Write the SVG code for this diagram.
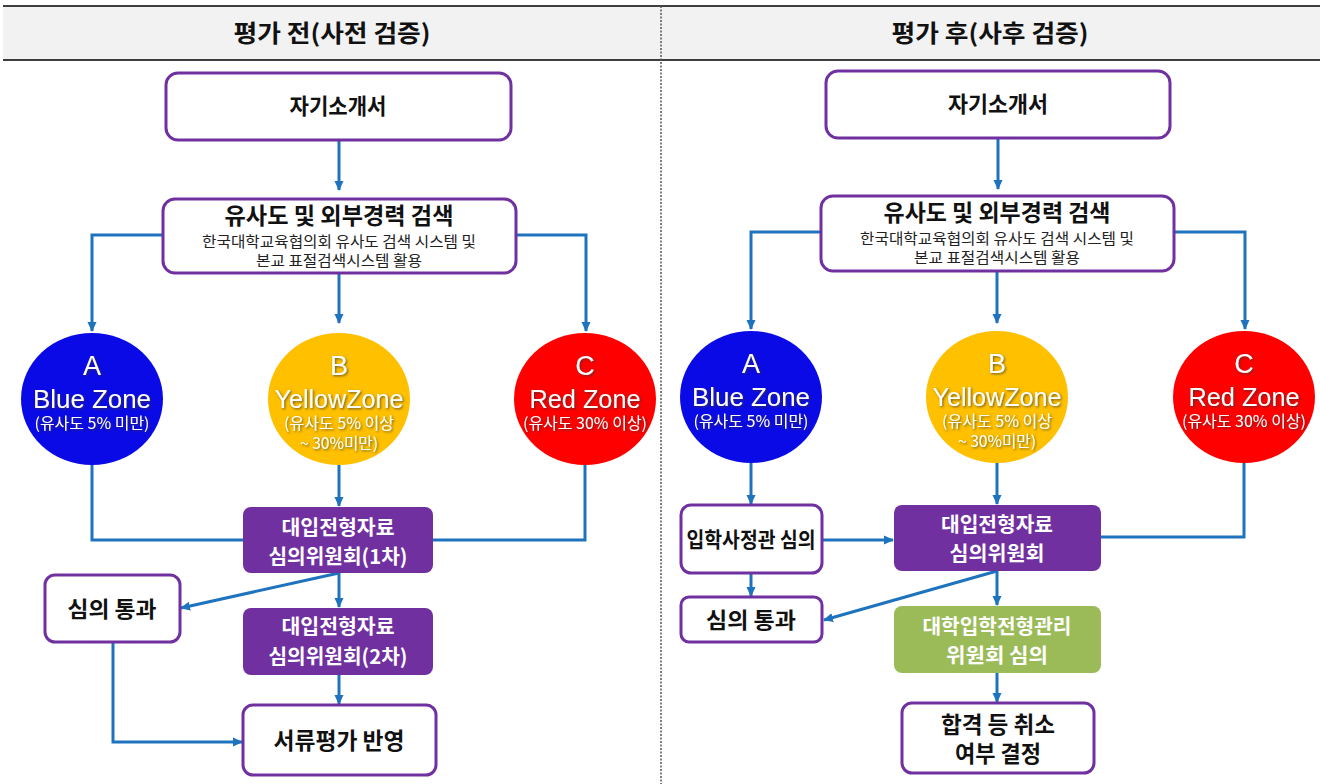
<svg xmlns="http://www.w3.org/2000/svg" width="1320" height="784" viewBox="0 0 1320 784">
<style>
.kr{font-family:"Noto Sans CJK KR","Noto Sans",sans-serif;text-anchor:middle}
.b{font-weight:bold}
.wbox{fill:#fff;stroke:#7030A0;stroke-width:3}
.pbox{fill:#7030A0}
.gbox{fill:#9BBB59}
.con{fill:none;stroke:#1E73BE;stroke-width:3}
.lat{font-family:"Liberation Sans",Arial,sans-serif;text-anchor:middle;fill:#fff}
.ct{fill:#fff}
</style>
<defs>
<marker id="ah" markerUnits="userSpaceOnUse" markerWidth="10" markerHeight="10" viewBox="0 0 10 10" refX="9" refY="5" orient="auto">
<path d="M0,0.5 L10,5 L0,9.5 Z" fill="#1E73BE"/>
</marker>
<filter id="sh" x="-10%" y="-10%" width="130%" height="140%">
<feDropShadow dx="1.2" dy="1.2" stdDeviation="0.8" flood-color="#333" flood-opacity="0.7"/>
</filter>
</defs>
<rect width="1320" height="784" fill="#fff"/>
<g id="header">
<rect x="3" y="6" width="1317" height="54" fill="#f2f2f2"/>
<line x1="3" y1="6" x2="1320" y2="6" stroke="#000" stroke-width="1.5"/>
<line x1="3" y1="60" x2="1320" y2="60" stroke="#000" stroke-width="1.5"/>
<line x1="661" y1="6" x2="661" y2="784" stroke="#555" stroke-width="1.5" stroke-dasharray="2,1.5"/>
<text class="kr b" x="332" y="42" font-size="24" fill="#111" textLength="197" lengthAdjust="spacingAndGlyphs">평가 전(사전 검증)</text>
<text class="kr b" x="990" y="42" font-size="24" fill="#111" textLength="197" lengthAdjust="spacingAndGlyphs">평가 후(사후 검증)</text>
</g>
<g id="connectors">
<path class="con" d="M339,140 V190" marker-end="url(#ah)"/>
<path class="con" d="M163,235 H92 V331" marker-end="url(#ah)"/>
<path class="con" d="M339,273 V323" marker-end="url(#ah)"/>
<path class="con" d="M516,235 H586 V331" marker-end="url(#ah)" stroke="#3F7FBF"/>
<path class="con" d="M92,465 V540 H243"/>
<path class="con" d="M339,465 V506" marker-end="url(#ah)"/>
<path class="con" d="M585,465 V540 H433"/>
<path class="con" d="M339,573 L181,608" marker-end="url(#ah)"/>
<path class="con" d="M339,573 V607" marker-end="url(#ah)"/>
<path class="con" d="M339,675 V704" marker-end="url(#ah)" stroke="#3F7FBF"/>
<path class="con" d="M113,642 V742 H242" marker-end="url(#ah)"/>
<path class="con" d="M998,138 V189" marker-end="url(#ah)"/>
<path class="con" d="M821,232 H751 V329" marker-end="url(#ah)"/>
<path class="con" d="M997,271 V323" marker-end="url(#ah)"/>
<path class="con" d="M1174,232 H1245 V329" marker-end="url(#ah)" stroke="#3F7FBF"/>
<path class="con" d="M751,463 V504" marker-end="url(#ah)"/>
<path class="con" d="M997,463 V504" marker-end="url(#ah)"/>
<path class="con" d="M1244,463 V537 H1101"/>
<path class="con" d="M822,540 H893" marker-end="url(#ah)"/>
<path class="con" d="M751,573 V596" marker-end="url(#ah)"/>
<path class="con" d="M997,571 L824,620" marker-end="url(#ah)"/>
<path class="con" d="M997,571 V605" marker-end="url(#ah)"/>
<path class="con" d="M997,673 V702" marker-end="url(#ah)" stroke="#3F7FBF"/>
</g>
<g id="L-intro">
<rect class="wbox" x="166" y="73" width="345" height="67" rx="12"/>
<text class="kr b" x="338" y="114" font-size="22" fill="#111" textLength="97" lengthAdjust="spacingAndGlyphs">자기소개서</text>
</g>
<g id="L-search">
<rect class="wbox" x="163" y="199" width="353" height="74" rx="12"/>
<text class="kr b" x="339" y="224" font-size="23" fill="#111" textLength="229" lengthAdjust="spacingAndGlyphs">유사도 및 외부경력 검색</text>
<text class="kr" x="339" y="246.5" font-size="14.5" fill="#222" textLength="274" lengthAdjust="spacingAndGlyphs">한국대학교육협의회 유사도 검색 시스템 및</text>
<text class="kr" x="339" y="265.5" font-size="14.5" fill="#222" textLength="166" lengthAdjust="spacingAndGlyphs">본교 표절검색시스템 활용</text>
</g>
<g id="L-A">
<ellipse cx="92" cy="399" rx="71" ry="66" fill="#0A0AE6"/>
<g filter="url(#sh)">
<text class="lat" x="92" y="375" font-size="27">A</text>
<text class="lat" x="92" y="408" font-size="25" textLength="118" lengthAdjust="spacingAndGlyphs">Blue Zone</text>
<text class="kr ct" x="92" y="429" font-size="15.5" textLength="115" lengthAdjust="spacingAndGlyphs">(유사도 5% 미만)</text>
</g>
</g>
<g id="L-B">
<ellipse cx="339" cy="399" rx="71" ry="66" fill="#FFC000"/>
<g filter="url(#sh)">
<text class="lat" x="339" y="375" font-size="27">B</text>
<text class="lat" x="339" y="408" font-size="25" textLength="129" lengthAdjust="spacingAndGlyphs">YellowZone</text>
<text class="kr ct" x="339" y="429" font-size="15.5" textLength="110" lengthAdjust="spacingAndGlyphs">(유사도 5% 이상</text>
<text class="kr ct" x="339" y="449" font-size="15.5" textLength="78" lengthAdjust="spacingAndGlyphs">~ 30%미만)</text>
</g>
</g>
<g id="L-C">
<ellipse cx="585" cy="399" rx="71" ry="66" fill="#FF0000"/>
<g filter="url(#sh)">
<text class="lat" x="585" y="375" font-size="27">C</text>
<text class="lat" x="585" y="408" font-size="25" textLength="111" lengthAdjust="spacingAndGlyphs">Red Zone</text>
<text class="kr ct" x="585" y="429" font-size="15.5" textLength="124" lengthAdjust="spacingAndGlyphs">(유사도 30% 이상)</text>
</g>
</g>
<g id="L-committee1">
<rect class="pbox" x="243" y="507" width="190" height="66" rx="8"/>
<text class="kr b" x="338" y="535" font-size="20" fill="#fff" textLength="113" lengthAdjust="spacingAndGlyphs">대입전형자료</text>
<text class="kr b" x="338" y="564" font-size="20" fill="#fff" textLength="139" lengthAdjust="spacingAndGlyphs">심의위원회(1차)</text>
</g>
<g id="L-pass">
<rect class="wbox" x="45" y="575" width="135" height="67" rx="10"/>
<text class="kr b" x="112" y="617" font-size="22" fill="#111" textLength="89" lengthAdjust="spacingAndGlyphs">심의 통과</text>
</g>
<g id="L-committee2">
<rect class="pbox" x="243" y="608" width="190" height="67" rx="8"/>
<text class="kr b" x="338" y="634" font-size="20" fill="#fff" textLength="113" lengthAdjust="spacingAndGlyphs">대입전형자료</text>
<text class="kr b" x="338" y="664" font-size="20" fill="#fff" textLength="139" lengthAdjust="spacingAndGlyphs">심의위원회(2차)</text>
</g>
<g id="L-result">
<rect class="wbox" x="243" y="705" width="193" height="70" rx="10"/>
<text class="kr b" x="339" y="749" font-size="22.5" fill="#111" textLength="131" lengthAdjust="spacingAndGlyphs">서류평가 반영</text>
</g>
<g id="R-intro">
<rect class="wbox" x="826" y="71" width="344" height="67" rx="12"/>
<text class="kr b" x="998" y="112" font-size="22" fill="#111" textLength="100" lengthAdjust="spacingAndGlyphs">자기소개서</text>
</g>
<g id="R-search">
<rect class="wbox" x="821" y="196" width="353" height="75" rx="12"/>
<text class="kr b" x="997" y="221" font-size="23" fill="#111" textLength="227" lengthAdjust="spacingAndGlyphs">유사도 및 외부경력 검색</text>
<text class="kr" x="997" y="243.5" font-size="14.5" fill="#222" textLength="274" lengthAdjust="spacingAndGlyphs">한국대학교육협의회 유사도 검색 시스템 및</text>
<text class="kr" x="997" y="262.5" font-size="14.5" fill="#222" textLength="166" lengthAdjust="spacingAndGlyphs">본교 표절검색시스템 활용</text>
</g>
<g id="R-A">
<ellipse cx="751" cy="397" rx="71" ry="66" fill="#0A0AE6"/>
<g filter="url(#sh)">
<text class="lat" x="751" y="373" font-size="27">A</text>
<text class="lat" x="751" y="406" font-size="25" textLength="118" lengthAdjust="spacingAndGlyphs">Blue Zone</text>
<text class="kr ct" x="751" y="427" font-size="15.5" textLength="115" lengthAdjust="spacingAndGlyphs">(유사도 5% 미만)</text>
</g>
</g>
<g id="R-B">
<ellipse cx="997" cy="397" rx="71" ry="66" fill="#FFC000"/>
<g filter="url(#sh)">
<text class="lat" x="997" y="373" font-size="27">B</text>
<text class="lat" x="997" y="406" font-size="25" textLength="129" lengthAdjust="spacingAndGlyphs">YellowZone</text>
<text class="kr ct" x="997" y="427" font-size="15.5" textLength="110" lengthAdjust="spacingAndGlyphs">(유사도 5% 이상</text>
<text class="kr ct" x="997" y="447" font-size="15.5" textLength="78" lengthAdjust="spacingAndGlyphs">~ 30%미만)</text>
</g>
</g>
<g id="R-C">
<ellipse cx="1244" cy="397" rx="71" ry="66" fill="#FF0000"/>
<g filter="url(#sh)">
<text class="lat" x="1244" y="373" font-size="27">C</text>
<text class="lat" x="1244" y="406" font-size="25" textLength="111" lengthAdjust="spacingAndGlyphs">Red Zone</text>
<text class="kr ct" x="1244" y="427" font-size="15.5" textLength="124" lengthAdjust="spacingAndGlyphs">(유사도 30% 이상)</text>
</g>
</g>
<g id="R-officer">
<rect class="wbox" x="681" y="505" width="141" height="68" rx="10"/>
<text class="kr b" x="751" y="547" font-size="21" fill="#111" textLength="129" lengthAdjust="spacingAndGlyphs">입학사정관 심의</text>
</g>
<g id="R-committee">
<rect class="pbox" x="894" y="505" width="207" height="66" rx="8"/>
<text class="kr b" x="997" y="532" font-size="20" fill="#fff" textLength="112" lengthAdjust="spacingAndGlyphs">대입전형자료</text>
<text class="kr b" x="997" y="561" font-size="20" fill="#fff" textLength="95" lengthAdjust="spacingAndGlyphs">심의위원회</text>
</g>
<g id="R-pass">
<rect class="wbox" x="681" y="597" width="141" height="45" rx="8"/>
<text class="kr b" x="751" y="628" font-size="22" fill="#111" textLength="90" lengthAdjust="spacingAndGlyphs">심의 통과</text>
</g>
<g id="R-admission">
<rect class="gbox" x="894" y="606" width="207" height="67" rx="8"/>
<text class="kr b" x="997" y="634" font-size="20" fill="#fff" textLength="149" lengthAdjust="spacingAndGlyphs">대학입학전형관리</text>
<text class="kr b" x="997" y="663" font-size="20" fill="#fff" textLength="102" lengthAdjust="spacingAndGlyphs">위원회 심의</text>
</g>
<g id="R-result">
<rect class="wbox" x="902" y="703" width="192" height="70" rx="10"/>
<text class="kr b" x="998" y="733" font-size="22.5" fill="#111" textLength="114" lengthAdjust="spacingAndGlyphs">합격 등 취소</text>
<text class="kr b" x="998" y="762" font-size="22.5" fill="#111" textLength="86" lengthAdjust="spacingAndGlyphs">여부 결정</text>
</g>
</svg>
